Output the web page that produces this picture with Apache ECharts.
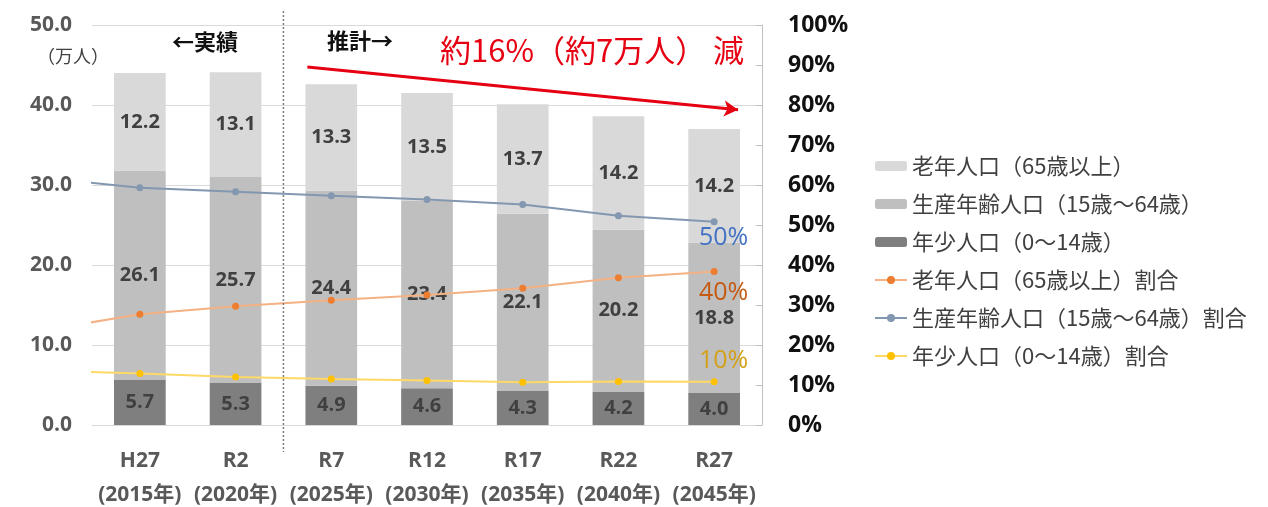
<!DOCTYPE html>
<html><head><meta charset="utf-8">
<script src="https://cdn.jsdelivr.net/npm/echarts@6/dist/echarts.min.js"></script>
<style>html,body{margin:0;padding:0;background:#fff}#c{width:1268px;height:507px}</style>
</head><body><div id="c"></div>
<script>
const categories = ['H27\n(2015年)','R2\n(2020年)','R7\n(2025年)','R12\n(2030年)','R17\n(2035年)','R22\n(2040年)','R27\n(2045年)'];
const elderly = [12.2, 13.1, 13.3, 13.5, 13.7, 14.2, 14.2];
const working = [26.1, 25.7, 24.4, 23.4, 22.1, 20.2, 18.8];
const young   = [5.7, 5.3, 4.9, 4.6, 4.3, 4.2, 4.0];
// ratio (%) ; first value is the preceding survey (off-chart, only its segment is visible)
const elderlyRatio = [23.7, 27.7, 29.7, 31.2, 32.5, 34.2, 36.8, 38.4];
const workingRatio = [61.8, 59.3, 58.3, 57.3, 56.4, 55.1, 52.3, 50.8];
const youngRatio   = [13.6, 12.9, 12.0, 11.5, 11.1, 10.7, 10.9, 10.8];
const leftTicks = [0, 10, 20, 30, 40, 50];
const rightTicks = [0, 10, 20, 30, 40, 50, 60, 70, 80, 90, 100];
const names = ['老年人口（65歳以上）','生産年齢人口（15歳～64歳）','年少人口（0～14歳）','老年人口（65歳以上）割合','生産年齢人口（15歳～64歳）割合','年少人口（0～14歳）割合'];

const FONT = "'Open Sans','Noto Sans CJK JP',sans-serif";
const chart = echarts.init(document.getElementById('c'), null, {renderer:'canvas'});
const toPts = arr => arr.map((v,i)=>[i-1, v]);
const barLabel = {show:true, position:'inside', color:'#404040', fontSize:20, fontWeight:'bold', fontFamily:FONT, formatter:p=>p.value.toFixed(1)};
function lineSeries(name, data, lineColor, dotColor){
  return {name, type:'line', xAxisIndex:1, yAxisIndex:1, data:toPts(data), symbol:'circle', symbolSize:7,
    showAllSymbol:true, clip:true,
    itemStyle:{color:dotColor}, lineStyle:{color:lineColor, width:2},
    z:5};
}
const option = {
  animation:false,
  textStyle:{fontFamily:FONT},
  grid:{left:92, right:506, top:25, bottom:82, containLabel:false, outerBoundsMode:'none'},
  legend:{
    orient:'vertical', left:869, top:150, itemWidth:32, itemHeight:10, itemGap:16,
    data:names,
    textStyle:{fontSize:22, color:'#404040', fontFamily:"'Noto Sans CJK JP',sans-serif"}
  },
  xAxis:[
    {type:'category', data:categories, boundaryGap:true,
      axisLine:{show:true, lineStyle:{color:'#d9d9d9'}}, axisTick:{show:false},
      axisLabel:{interval:0, hideOverlap:false, color:'#595959', fontSize:21, fontWeight:'bold', margin:19, lineHeight:34, fontFamily:FONT}},
    {type:'value', min:-0.5, max:6.5, show:false}
  ],
  yAxis:[
    {type:'value', min:0, max:50, interval:10,
      axisLabel:{formatter:v=>v.toFixed(1), color:'#595959', fontSize:21, fontWeight:'bold', margin:20, fontFamily:FONT},
      splitLine:{lineStyle:{color:'#d9d9d9'}}, axisLine:{show:false}, axisTick:{show:false}},
    {type:'value', min:0, max:100, interval:10, position:'right',
      axisLabel:{formatter:'{value}%', color:'#111', fontSize:23, fontWeight:'bold', margin:26, fontFamily:FONT},
      splitLine:{show:false}, axisLine:{show:true, lineStyle:{color:'#bfbfbf'}},
      axisTick:{show:true, inside:true, length:6, lineStyle:{color:'#bfbfbf'}}}
  ],
  series:[
    {name:names[2], type:'bar', stack:'p', data:young, barWidth:'54%', itemStyle:{color:'#7f7f7f'}, label:barLabel},
    {name:names[1], type:'bar', stack:'p', data:working, itemStyle:{color:'#bfbfbf'}, label:barLabel},
    {name:names[0], type:'bar', stack:'p', data:elderly, itemStyle:{color:'#d9d9d9'}, label:barLabel},
    Object.assign(lineSeries(names[3], elderlyRatio, '#f4b183', '#ed7d31'), {
      markLine:{silent:true, symbol:['none','arrow'], symbolSize:[12,14],
        lineStyle:{color:'#e60012', width:3, type:'solid'}, label:{show:false},
        data:[[{coord:[1.75, 89.5]},{coord:[6.25, 78.8]}]]}
    }),
    lineSeries(names[4], workingRatio, '#8497b0', '#8497b0'),
    lineSeries(names[5], youngRatio, '#ffd966', '#ffc000')
  ]
};
chart.setOption(option);

const divX = chart.convertToPixel({xAxisIndex:1}, 1.5);
const yTop = chart.convertToPixel({yAxisIndex:0}, 50);
const yBot = chart.convertToPixel({yAxisIndex:0}, 0);
chart.setOption({graphic:[
  {type:'line', z:100, shape:{x1:divX, y1:yTop-14, x2:divX, y2:yBot+27}, style:{stroke:'#7f7f7f', lineWidth:1.5, lineDash:[2,2]}},
  {type:'text', z:100, left:37, top:47, style:{text:'（万人）', fill:'#404040', font:"18px 'Noto Sans CJK JP'"}},
  {type:'text', z:100, left:172, top:31, style:{text:'←実績', fill:'#111', font:"bold 22px 'Noto Sans CJK JP'"}},
  {type:'text', z:100, left:327, top:30, style:{text:'推計→', fill:'#111', font:"bold 22px 'Noto Sans CJK JP'"}},
  {type:'text', z:100, left:440, top:35, style:{text:'約16%（約7万人） 減', fill:'#e60012', font:"31px 'Noto Sans CJK JP'"}},
  {type:'text', z:100, left:699, top:225, style:{text:'50%', fill:'#4472c4', font:"25px 'Open Sans'"}},
  {type:'text', z:100, left:699, top:280, style:{text:'40%', fill:'#c55a11', font:"25px 'Open Sans'"}},
  {type:'text', z:100, left:699, top:348, style:{text:'10%', fill:'#d4a017', font:"25px 'Open Sans'"}}
]});
</script></body></html>
